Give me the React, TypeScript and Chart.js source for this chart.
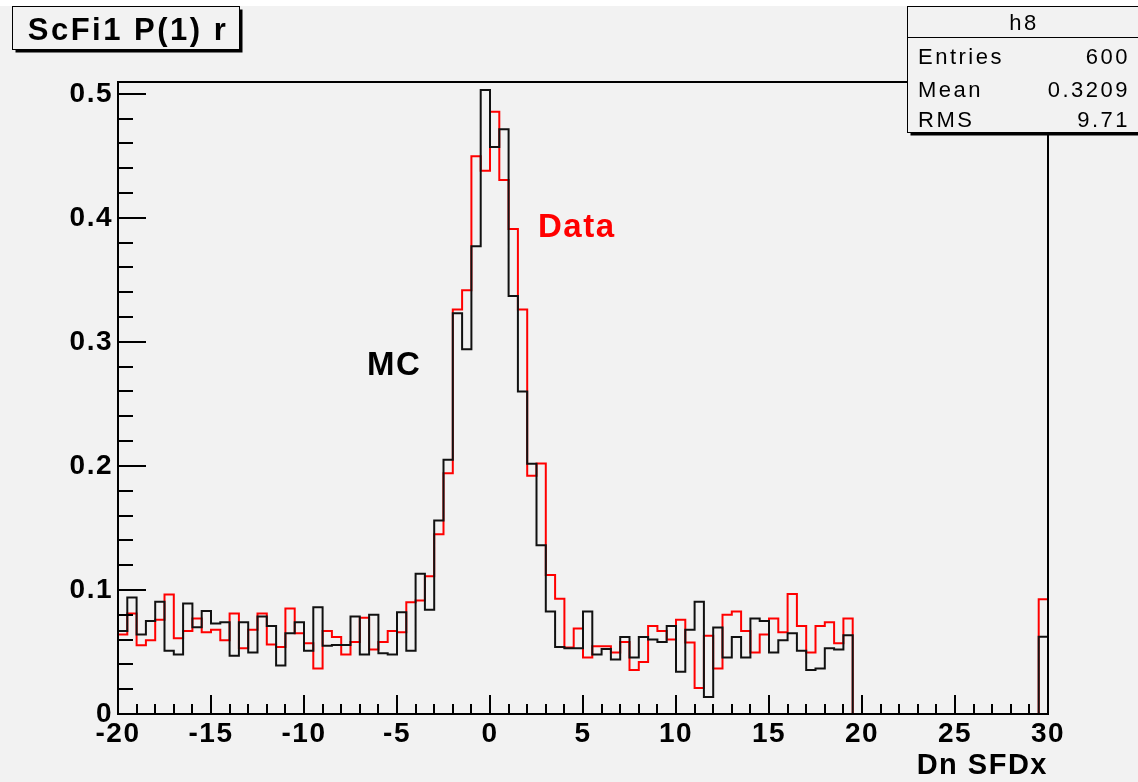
import React, { useEffect, useRef } from 'react';
import { Chart, registerables } from 'chart.js';

Chart.register(...registerables);

// ---- data (100 bins of width 0.5 from -20 to 30) ----
const X_MIN = -20;
const X_MAX = 30;
const BIN_WIDTH = 0.5;
const Y_MAX = 0.5095;

const mcValues = [
  0.067, 0.094, 0.064, 0.075, 0.0905, 0.051, 0.048, 0.089, 0.070, 0.083,
  0.073, 0.074, 0.047, 0.074, 0.0495, 0.0786, 0.071, 0.039, 0.065, 0.074,
  0.051, 0.086, 0.055, 0.0557, 0.0557, 0.0786, 0.048, 0.080, 0.049, 0.048,
  0.082, 0.051, 0.113, 0.084, 0.156, 0.205, 0.323, 0.294, 0.377, 0.503,
  0.457, 0.4715, 0.337, 0.260, 0.2017, 0.136, 0.0827, 0.054, 0.053, 0.053,
  0.0827, 0.048, 0.0525, 0.044, 0.062, 0.0455, 0.062, 0.060, 0.058, 0.071,
  0.034, 0.068, 0.0905, 0.0137, 0.0697, 0.0455, 0.062, 0.0455, 0.077, 0.075,
  0.0495, 0.0595, 0.065, 0.051, 0.0355, 0.0366, 0.053, 0.052, 0.0635, 0,
  0, 0, 0, 0, 0, 0, 0, 0, 0, 0,
  0, 0, 0, 0, 0, 0, 0, 0, 0, 0.0622,
];

const dataValues = [
  0.064, 0.081, 0.0555, 0.0595, 0.076, 0.0964, 0.061, 0.067, 0.077, 0.066,
  0.068, 0.0595, 0.081, 0.053, 0.068, 0.081, 0.056, 0.054, 0.085, 0.065,
  0.057, 0.0366, 0.067, 0.062, 0.048, 0.058, 0.0775, 0.052, 0.058, 0.067,
  0.066, 0.090, 0.0915, 0.111, 0.145, 0.194, 0.326, 0.3417, 0.4497, 0.438,
  0.4855, 0.4305, 0.391, 0.326, 0.192, 0.202, 0.112, 0.093, 0.0536, 0.069,
  0.0455, 0.0547, 0.0547, 0.0495, 0.058, 0.0355, 0.042, 0.071, 0.067, 0.060,
  0.076, 0.0576, 0.021, 0.063, 0.0366, 0.080, 0.0827, 0.067, 0.0495, 0.064,
  0.077, 0.066, 0.0967, 0.071, 0.0495, 0.071, 0.074, 0.057, 0.077, 0,
  0, 0, 0, 0, 0, 0, 0, 0, 0, 0,
  0, 0, 0, 0, 0, 0, 0, 0, 0, 0.0926,
];

const xTickValues = [-20, -15, -10, -5, 0, 5, 10, 15, 20, 25, 30];
const yTickValues = [0, 0.1, 0.2, 0.3, 0.4, 0.5];
const xMinorStep = 1;
const yMinorStep = 0.02;

const titleText = 'ScFi1 P(1) r';
const statsName = 'h8';
const statsLabels = ['Entries', 'Mean', 'RMS'];
const statsValues = ['600', '0.3209', '9.71'];
const mcLabel = 'MC';
const dataLabel = 'Data';
const xAxisTitle = 'Dn SFDx';

// ---- style ----
const BG = '#f2f2f2';
const FONT = '"Liberation Sans", Arial, Helvetica, sans-serif';

function histPoints(values: number[]) {
  const pts = values.map((v, k) => ({ x: X_MIN + k * BIN_WIDTH, y: v }));
  pts.push({ x: X_MAX, y: values[values.length - 1] });
  return pts;
}

const decorPlugin = {
  id: 'rootDecor',
  beforeDraw(chart: any) {
    const ctx = chart.ctx as CanvasRenderingContext2D;
    ctx.save();
    ctx.fillStyle = '#ffffff';
    ctx.fillRect(0, 0, chart.width, chart.height);
    ctx.fillStyle = BG;
    ctx.fillRect(0, 6, chart.width, chart.height - 6);
    ctx.restore();
    (ctx as any).letterSpacing = '1.5px';
  },
  afterDraw(chart: any) {
    const ctx = chart.ctx as CanvasRenderingContext2D;
    const { left, right, top, bottom } = chart.chartArea;
    const xs = chart.scales.x;
    const ys = chart.scales.y;
    ctx.save();
    // frame
    ctx.strokeStyle = '#000';
    ctx.lineWidth = 2;
    ctx.strokeRect(left, top, right - left, bottom - top);
    // ticks (inside)
    ctx.lineWidth = 2;
    ctx.beginPath();
    for (let v = X_MIN; v <= X_MAX + 1e-9; v += xMinorStep) {
      const px = Math.round(xs.getPixelForValue(v));
      const major = Math.abs(v % 5) < 1e-9;
      ctx.moveTo(px, bottom);
      ctx.lineTo(px, bottom - (major ? 19 : 10));
    }
    for (let i = 0; i * yMinorStep <= Y_MAX + 1e-9; i++) {
      const v = i * yMinorStep;
      const py = Math.round(ys.getPixelForValue(v));
      const major = i % 5 === 0;
      ctx.moveTo(left, py);
      ctx.lineTo(left + (major ? 28 : 15), py);
    }
    ctx.stroke();

    // labels MC / Data
    (ctx as any).letterSpacing = '1.5px';
    ctx.font = `bold 33px ${FONT}`;
    ctx.textBaseline = 'alphabetic';
    ctx.textAlign = 'left';
    ctx.fillStyle = '#000';
    ctx.fillText(mcLabel, 367, 375);
    ctx.fillStyle = '#ff0000';
    ctx.fillText(dataLabel, 538, 237);

    // title box
    const tb = { x: 12.5, y: 6.5, w: 227, h: 43 };
    ctx.fillStyle = '#000';
    ctx.fillRect(tb.x + 3, tb.y + 3, tb.w, tb.h);
    ctx.fillStyle = BG;
    ctx.fillRect(tb.x, tb.y, tb.w, tb.h);
    ctx.lineWidth = 1;
    ctx.strokeStyle = '#000';
    ctx.strokeRect(tb.x, tb.y, tb.w, tb.h);
    ctx.fillStyle = '#000';
    ctx.font = `bold 31px ${FONT}`;
    (ctx as any).letterSpacing = '2.5px';
    ctx.textAlign = 'center';
    ctx.textBaseline = 'alphabetic';
    ctx.fillText(titleText, tb.x + tb.w / 2 + 2, 40);

    // stats box
    const sb = { x: 907.5, y: 6.5, w: 240, h: 126 };
    ctx.fillStyle = '#000';
    ctx.fillRect(sb.x + 3, sb.y + 3, sb.w, sb.h);
    ctx.fillStyle = BG;
    ctx.fillRect(sb.x, sb.y, sb.w, sb.h);
    ctx.lineWidth = 1;
    ctx.strokeRect(sb.x, sb.y, sb.w, sb.h);
    ctx.beginPath();
    ctx.moveTo(sb.x, 37.5);
    ctx.lineTo(sb.x + sb.w, 37.5);
    ctx.stroke();
    ctx.fillStyle = '#000';
    ctx.font = `22px ${FONT}`;
    (ctx as any).letterSpacing = '2.5px';
    ctx.textAlign = 'center';
    ctx.fillText(statsName, 1024, 30);
    const baselines = [64, 96.5, 126.5];
    statsLabels.forEach((lab, i) => {
      ctx.textAlign = 'left';
      ctx.fillText(lab, 918, baselines[i]);
      ctx.textAlign = 'right';
      ctx.fillText(statsValues[i], 1130, baselines[i]);
    });
    ctx.restore();
  },
};

export default function App() {
  const ref = useRef<HTMLCanvasElement>(null);
  useEffect(() => {
    document.body.style.margin = '0';
    document.body.style.background = '#ffffff';
    const canvas = ref.current!;
    const chart = new Chart(canvas, {
      type: 'line',
      data: {
        datasets: [
          {
            label: mcLabel,
            data: histPoints(mcValues),
            borderColor: '#111111',
            borderWidth: 2,
            stepped: 'before',
            pointRadius: 0,
            fill: false,
            order: 0,
          },
          {
            label: dataLabel,
            data: histPoints(dataValues),
            borderColor: '#ff0000',
            borderWidth: 2,
            stepped: 'before',
            pointRadius: 0,
            fill: false,
            order: 1,
          },
        ],
      },
      options: {
        animation: false,
        responsive: false,
        devicePixelRatio: 1,
        parsing: false,
        layout: { padding: { left: 0, right: 90, top: 82, bottom: 0 } },
        plugins: {
          legend: { display: false },
          title: { display: false },
          tooltip: { enabled: false },
        },
        scales: {
          x: {
            type: 'linear',
            min: X_MIN,
            max: X_MAX,
            afterBuildTicks: (s: any) => {
              s.ticks = xTickValues.map((v) => ({ value: v }));
            },
            afterFit: (s: any) => {
              s.height = 68;
            },
            grid: { display: true, drawOnChartArea: false, drawTicks: false },
            border: { display: true, color: '#000', width: 2 },
            ticks: {
              color: '#000',
              padding: 3,
              maxRotation: 0,
              autoSkip: false,
              font: { family: FONT, size: 28, weight: 'bold' },
              callback: (v: any) => String(v),
            },
            title: {
              display: true,
              text: xAxisTitle,
              align: 'end',
              color: '#000',
              padding: { top: 0, bottom: 2 },
              font: { family: FONT, size: 29, weight: 'bold', lineHeight: 1 },
            },
          },
          y: {
            type: 'linear',
            min: 0,
            max: Y_MAX,
            afterBuildTicks: (s: any) => {
              s.ticks = yTickValues.map((v) => ({ value: v }));
            },
            afterFit: (s: any) => {
              s.width = 118;
            },
            grid: { display: true, drawOnChartArea: false, drawTicks: false },
            border: { display: true, color: '#000', width: 2 },
            ticks: {
              color: '#000',
              padding: 5,
              autoSkip: false,
              font: { family: FONT, size: 28, weight: 'bold' },
              callback: (v: any) => String(Math.round(v * 10) / 10),
            },
          },
        },
      } as any,
      plugins: [decorPlugin],
    });
    return () => chart.destroy();
  }, []);
  return (
    <div style={{ width: 1138, height: 782 }}>
      <canvas ref={ref} width={1138} height={782} style={{ display: 'block', width: 1138, height: 782 }} />
    </div>
  );
}
